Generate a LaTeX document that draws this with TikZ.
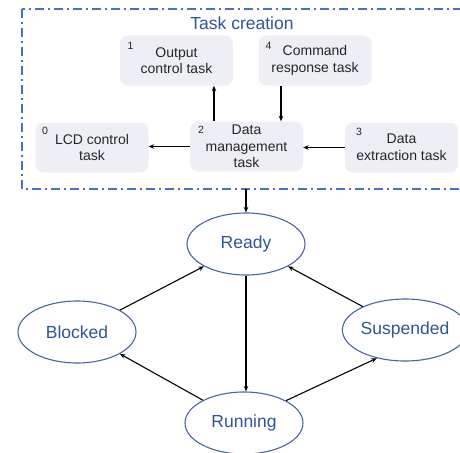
\documentclass[tikz,border=0pt]{standalone}
\usepackage{fontspec}
\setmainfont{Liberation Sans}
\usetikzlibrary{arrows.meta,shapes.geometric}
\definecolor{frameblue}{HTML}{4472C4}
\definecolor{ellblue}{HTML}{4A659C}
\definecolor{txtblue}{HTML}{2F5597}
\definecolor{boxfill}{HTML}{EDEFF5}
\definecolor{txtgray}{HTML}{262626}
\begin{document}
\begin{tikzpicture}[x=1pt,y=-1pt,
 taskbox/.style={rounded corners=8pt, fill=boxfill, minimum width=113pt, minimum height=50pt, inner sep=0pt, align=center, font=\fontsize{14}{16.5}\selectfont, text=txtgray},
 numlbl/.style={font=\fontsize{10.5}{12}\selectfont, text=txtgray, inner sep=0pt},
 stnode/.style={ellipse, draw=ellblue, line width=1.1pt, minimum width=118pt, minimum height=62pt, inner sep=0pt, font=\fontsize{17.5}{20}\selectfont, text=txtblue},
 arr/.style={-{Stealth[length=5.5pt,width=4.5pt]}, line width=1.1pt, black}]
\useasboundingbox (0,0) rectangle (460,452);
\clip (0,0) rectangle (460,452);
\draw[frameblue, line width=1.3pt, dash pattern=on 9pt off 4pt on 2pt off 4pt] (22,9) rectangle (480,189);
\node[font=\fontsize{17.5}{20}\selectfont, text=txtblue] (title) at (242,23) {Task creation};
% task boxes
\node[taskbox] (oc) at (176.5,60.5) {Output\\control task};
\node[taskbox] (cr) at (315,60.5) {Command\\response task};
\node[taskbox] (lcd) at (92,147.5) {LCD control\\task};
\node[taskbox] (dm) at (246.5,146.5) {Data\\management\\task};
\node[taskbox] (de) at (401.5,147.5) {Data\\extraction task};
% numbers
\node[numlbl] (n1) at (130.5,45.5) {1};
\node[numlbl] (n4) at (268.5,45.5) {4};
\node[numlbl] (n0) at (45,130.5) {0};
\node[numlbl] (n2) at (201,130) {2};
\node[numlbl] (n3) at (359,132) {3};
% box arrows
\draw[arr] ([xshift=-32.5pt]dm.north) -- ([xshift=-32.5pt]dm.north |- oc.south);
\draw[arr] ([xshift=-34pt]cr.south) -- ([xshift=-34pt]cr.south |- dm.north);
\draw[arr] (dm.west) -- (dm.west -| lcd.east);
\draw[arr] (de.west) -- (de.west -| dm.east);
% states
\node[stnode] (ready) at (246,244) {Ready};
\node[stnode] (blocked) at (77,332) {Blocked};
\node[stnode] (susp) at (405,330) {Suspended};
\node[stnode] (run) at (244,423) {Running};
\coordinate (fb) at (246,189);
\draw[arr] (fb) -- (ready.north);
\draw[arr] (ready.south) -- (ready.south |- run.north);
\draw[arr] (blocked.27) -- (ready.208);
\draw[arr] (susp.151) -- (ready.332);
\draw[arr] (run.151) -- (blocked.333);
\draw[arr] (run.28) -- (susp.225);
\end{tikzpicture}
\end{document}
